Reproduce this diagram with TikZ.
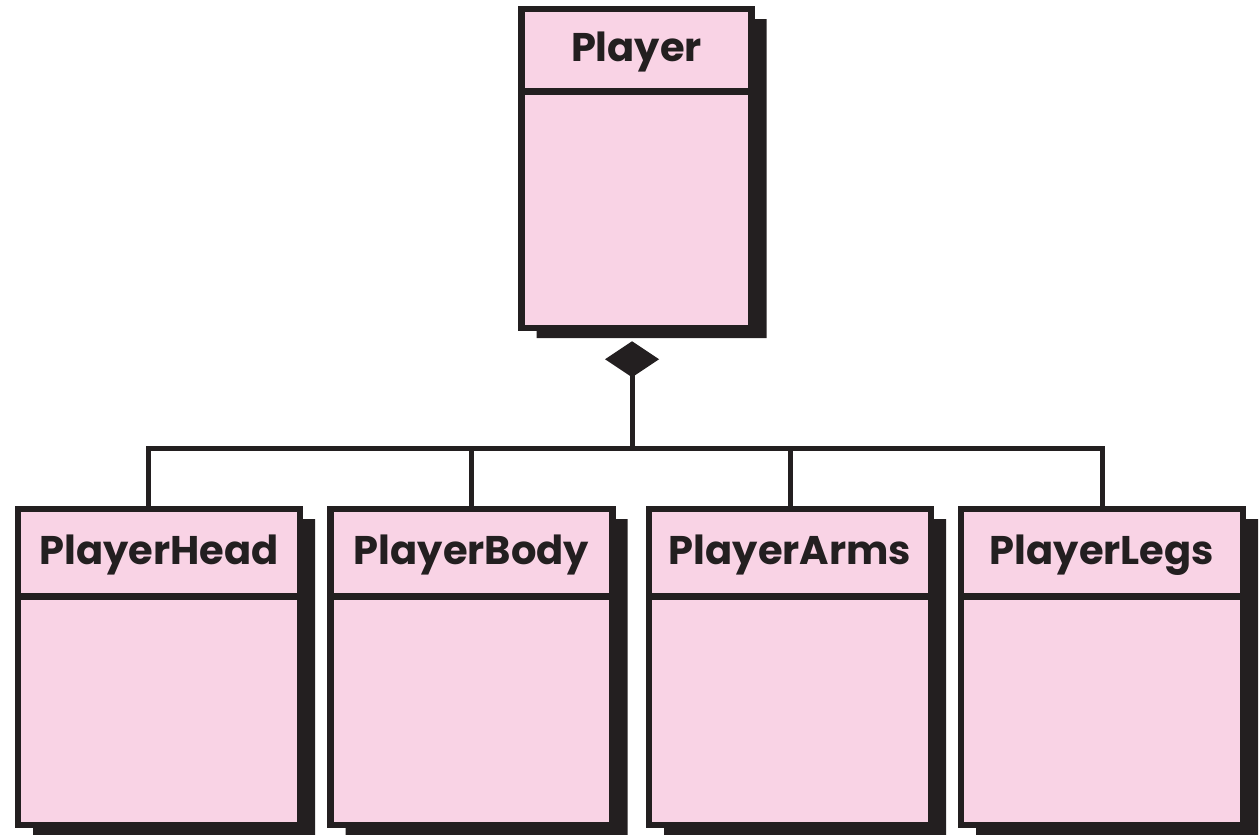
\documentclass[tikz,border=0pt]{standalone}
\usepackage{fontspec}
\setmainfont{Poppins}
\usetikzlibrary{shapes.multipart,shadows,arrows.meta}
\definecolor{classpink}{RGB}{249,211,229}
\definecolor{ink}{RGB}{35,31,32}
\tikzset{
  classbox/.style={rectangle split, rectangle split parts=2, draw=ink, fill=classpink,
    line width=3.25pt, inner sep=0pt, minimum width=141pt, text=ink,
    font=\bfseries\fontsize{20}{24}\selectfont,
    drop shadow={shadow xshift=7.5pt, shadow yshift=-5pt, fill=ink, opacity=1}},
  link/.style={draw=ink, line width=2.5pt}
}
\newcommand{\headrow}[1]{\rule[-14.5pt]{0pt}{40.5pt}#1}
\newcommand{\bodyrow}{\rule{0pt}{111pt}}

\begin{document}
\begin{tikzpicture}[x=0.5pt, y=-0.5pt]
\useasboundingbox (0,0) rectangle (1259,835);

\node[classbox, minimum width=115pt] (player) at (636.5,168.5) {\rule[-13.5pt]{0pt}{38pt}Player\nodepart{second}\rule{0pt}{115pt}};

\node[classbox] (head) at (159,667) {\headrow{PlayerHead}\nodepart{second}\bodyrow};
\node[classbox] (body) at (471.5,667) {\headrow{PlayerBody}\nodepart{second}\bodyrow};
\node[classbox] (arms) at (790,667) {\headrow{PlayerArms}\nodepart{second}\bodyrow};
\node[classbox] (legs) at (1102,667) {\headrow{PlayerLegs}\nodepart{second}\bodyrow};

\coordinate (bus) at (632,448);
\path[link,{Diamond[length=18pt,width=27pt,fill=ink]}-] ([yshift=-5pt]bus |- player.south) -- (bus);
\path[link] (bus) -| ([xshift=-5.5pt]head.north);
\path[link] (bus) -| (body.north);
\path[link] (bus) -| (arms.north);
\path[link] (bus) -| (legs.north);
\end{tikzpicture}
\end{document}
